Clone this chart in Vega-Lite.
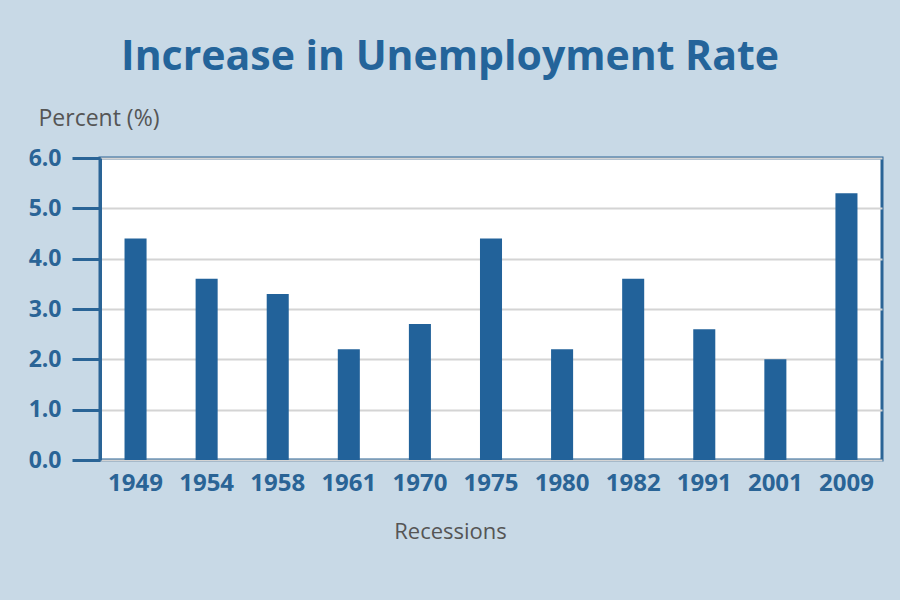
{
  "$schema": "https://vega.github.io/schema/vega-lite/v6.json",
  "width": 782,
  "height": 302,
  "autosize": {"type": "none"},
  "padding": {"left": 100, "top": 158, "right": 18, "bottom": 140},
  "background": "#c8d9e6",
  "title": {
    "text": "Increase in Unemployment Rate",
    "font": "Open Sans",
    "fontSize": 41,
    "fontWeight": "bold",
    "color": "#24649a",
    "anchor": "middle",
    "frame": "group",
    "dx": -41,
    "offset": 28
  },
  "config": {
    "view": {"fill": "white", "stroke": "#2a6496", "strokeWidth": 3},
    "font": "Open Sans"
  },
  "data": {
    "values": [
      {"year": "1949", "value": 4.4},
      {"year": "1954", "value": 3.6},
      {"year": "1958", "value": 3.3},
      {"year": "1961", "value": 2.2},
      {"year": "1970", "value": 2.7},
      {"year": "1975", "value": 4.4},
      {"year": "1980", "value": 2.2},
      {"year": "1982", "value": 3.6},
      {"year": "1991", "value": 2.6},
      {"year": "2001", "value": 2.0},
      {"year": "2009", "value": 5.3}
    ]
  },
  "mark": {"type": "bar", "color": "#22629a"},
  "encoding": {
    "x": {
      "field": "year",
      "type": "ordinal",
      "sort": null,
      "scale": {"paddingInner": 0.69, "paddingOuter": 0.345},
      "axis": {
        "title": "Recessions",
        "titleFont": "Open Sans",
        "titleFontSize": 22,
        "titleFontWeight": "normal",
        "titleColor": "#555555",
        "titleX": 350,
        "titleAlign": "center",
        "titlePadding": 26,
        "labelAngle": 0,
        "labelFont": "Open Sans",
        "labelFontSize": 24,
        "labelFontWeight": "bold",
        "labelColor": "#2a6496",
        "labelPadding": 11,
        "ticks": false,
        "domain": false
      }
    },
    "y": {
      "field": "value",
      "type": "quantitative",
      "scale": {"domain": [0, 6]},
      "axis": {
        "title": "Percent (%)",
        "titleFont": "Open Sans",
        "titleFontSize": 23,
        "titleFontWeight": "normal",
        "titleColor": "#555555",
        "titleAngle": 0,
        "titleAlign": "left",
        "titleBaseline": "alphabetic",
        "titleX": -62,
        "titleY": -33,
        "values": [0, 1, 2, 3, 4, 5, 6],
        "format": ".1f",
        "labelFont": "Open Sans",
        "labelFontSize": 23,
        "labelFontWeight": "bold",
        "labelColor": "#2a6496",
        "labelPadding": 11,
        "tickSize": 28,
        "tickWidth": 3,
        "tickColor": "#2a6496",
        "domainColor": "#2a6496",
        "domainWidth": 3,
        "grid": true,
        "gridColor": "#d4d4d4",
        "gridWidth": 2
      }
    }
  }
}
